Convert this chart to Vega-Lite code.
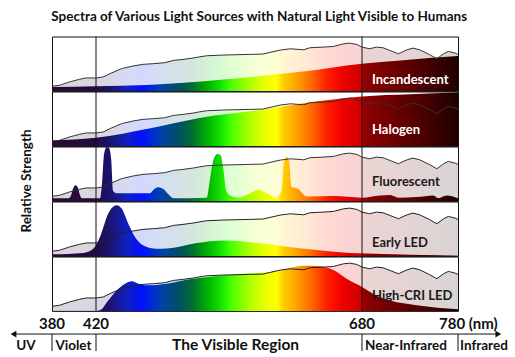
{
  "$schema": "https://vega.github.io/schema/vega-lite/v6.json",
  "background": "white",
  "padding": {"left": 10, "top": 9.5, "right": 5, "bottom": 0},
  "bounds": "flush",
  "title": {"text": "Spectra of Various Light Sources with Natural Light Visible to Humans", "font": "Lato", "fontSize": 13.5, "fontWeight": "bold", "color": "#111", "anchor": "middle", "offset": 12},
  "spacing": 0,
  "config": {"view": {"stroke": "#111", "strokeWidth": 1}, "font": "Lato"},
  "datasets": {
    "daylight": [
      {"nm":380,"v":8.5},{"nm":387,"v":10.4},{"nm":396,"v":16.5},{"nm":405,"v":21.3},{"nm":411,"v":23.8},{"nm":420,"v":23.8},{"nm":427,"v":25.6},{"nm":435,"v":32.9},{"nm":445,"v":40.9},{"nm":456,"v":45.7},{"nm":466,"v":48.8},{"nm":476,"v":50},{"nm":487,"v":51.8},{"nm":496,"v":56.1},{"nm":505,"v":57.9},{"nm":515,"v":60.4},{"nm":520,"v":62.2},{"nm":528,"v":64.6},{"nm":544,"v":65.9},{"nm":557,"v":66.5},{"nm":570,"v":67.1},{"nm":583,"v":67.7},{"nm":590,"v":70.7},{"nm":600,"v":75},{"nm":610,"v":77.4},{"nm":623,"v":75.6},{"nm":629,"v":79.3},{"nm":642,"v":80.5},{"nm":652,"v":81.7},{"nm":662,"v":86.6},{"nm":668,"v":87.8},{"nm":675,"v":85.4},{"nm":680,"v":80.5},{"nm":688,"v":77.4},{"nm":695,"v":80.5},{"nm":702,"v":79.3},{"nm":709,"v":74.4},{"nm":718,"v":68.3},{"nm":727,"v":75.6},{"nm":733,"v":78.7},{"nm":740,"v":75.6},{"nm":750,"v":67.1},{"nm":758,"v":59.1},{"nm":765,"v":68.3},{"nm":770,"v":72.6},{"nm":777,"v":69.5},{"nm":780,"v":67}
    ],
    "spectra": [
      {"source":"Incandescent","nm":380,"v":7},{"source":"Incandescent","nm":420,"v":8.5},{"source":"Incandescent","nm":470,"v":11},{"source":"Incandescent","nm":520,"v":17},{"source":"Incandescent","nm":570,"v":25},{"source":"Incandescent","nm":620,"v":35},{"source":"Incandescent","nm":680,"v":50},{"source":"Incandescent","nm":720,"v":56},{"source":"Incandescent","nm":780,"v":64},
      {"source":"Halogen","nm":380,"v":10},{"source":"Halogen","nm":420,"v":15},{"source":"Halogen","nm":472,"v":32},{"source":"Halogen","nm":520,"v":51},{"source":"Halogen","nm":584,"v":67},{"source":"Halogen","nm":636,"v":82},{"source":"Halogen","nm":680,"v":91},{"source":"Halogen","nm":730,"v":95},{"source":"Halogen","nm":780,"v":98},
      {"source":"Fluorescent","nm":380,"v":5},{"source":"Fluorescent","nm":395,"v":5},{"source":"Fluorescent","nm":397.3,"v":10},{"source":"Fluorescent","nm":399.4,"v":24},{"source":"Fluorescent","nm":401.5,"v":28.7},{"source":"Fluorescent","nm":403.6,"v":24},{"source":"Fluorescent","nm":405.5,"v":10},{"source":"Fluorescent","nm":407.3,"v":5},{"source":"Fluorescent","nm":423.9,"v":5},{"source":"Fluorescent","nm":426.2,"v":40},{"source":"Fluorescent","nm":427.8,"v":85},{"source":"Fluorescent","nm":430.4,"v":99},{"source":"Fluorescent","nm":432.9,"v":97},{"source":"Fluorescent","nm":434.9,"v":75},{"source":"Fluorescent","nm":436.8,"v":18},{"source":"Fluorescent","nm":440.2,"v":14},{"source":"Fluorescent","nm":472.7,"v":14},{"source":"Fluorescent","nm":476,"v":20},{"source":"Fluorescent","nm":480.9,"v":25},{"source":"Fluorescent","nm":485.8,"v":22},{"source":"Fluorescent","nm":490.7,"v":12},{"source":"Fluorescent","nm":495.6,"v":5},{"source":"Fluorescent","nm":528.2,"v":6},{"source":"Fluorescent","nm":531.4,"v":40},{"source":"Fluorescent","nm":534.7,"v":75},{"source":"Fluorescent","nm":538.6,"v":86},{"source":"Fluorescent","nm":541.9,"v":84},{"source":"Fluorescent","nm":544.4,"v":60},{"source":"Fluorescent","nm":547.1,"v":20},{"source":"Fluorescent","nm":551,"v":10},{"source":"Fluorescent","nm":560.8,"v":6},{"source":"Fluorescent","nm":570.5,"v":14},{"source":"Fluorescent","nm":578.7,"v":20.6},{"source":"Fluorescent","nm":586.8,"v":14},{"source":"Fluorescent","nm":596.6,"v":6},{"source":"Fluorescent","nm":601.5,"v":20},{"source":"Fluorescent","nm":603.8,"v":72},{"source":"Fluorescent","nm":606.4,"v":81},{"source":"Fluorescent","nm":608.7,"v":72},{"source":"Fluorescent","nm":610.9,"v":26},{"source":"Fluorescent","nm":617.8,"v":22},{"source":"Fluorescent","nm":626,"v":8},{"source":"Fluorescent","nm":652,"v":9},{"source":"Fluorescent","nm":680,"v":6},{"source":"Fluorescent","nm":698.8,"v":10},{"source":"Fluorescent","nm":709.2,"v":11},{"source":"Fluorescent","nm":717.8,"v":6},{"source":"Fluorescent","nm":736.9,"v":7},{"source":"Fluorescent","nm":754.2,"v":10},{"source":"Fluorescent","nm":759.4,"v":5},{"source":"Fluorescent","nm":768.1,"v":10},{"source":"Fluorescent","nm":780,"v":5},
      {"source":"Early LED","nm":380,"v":3},{"source":"Early LED","nm":408.5,"v":5.5},{"source":"Early LED","nm":417.5,"v":13},{"source":"Early LED","nm":423.9,"v":34.6},{"source":"Early LED","nm":432,"v":77.8},{"source":"Early LED","nm":440.2,"v":93.2},{"source":"Early LED","nm":445.1,"v":87},{"source":"Early LED","nm":451.6,"v":59},{"source":"Early LED","nm":458.1,"v":34.6},{"source":"Early LED","nm":466.3,"v":19},{"source":"Early LED","nm":479.3,"v":13},{"source":"Early LED","nm":498.9,"v":16},{"source":"Early LED","nm":518.4,"v":23.5},{"source":"Early LED","nm":544.4,"v":28.4},{"source":"Early LED","nm":570.5,"v":25.3},{"source":"Early LED","nm":603,"v":17.9},{"source":"Early LED","nm":635.7,"v":11},{"source":"Early LED","nm":668.3,"v":5.5},{"source":"Early LED","nm":702.2,"v":3.7},{"source":"Early LED","nm":757.8,"v":1.2},{"source":"Early LED","nm":780,"v":0.5},
      {"source":"High-CRI LED","nm":380,"v":0},{"source":"High-CRI LED","nm":420,"v":0},{"source":"High-CRI LED","nm":423.9,"v":1},{"source":"High-CRI LED","nm":432,"v":19},{"source":"High-CRI LED","nm":440.2,"v":37.5},{"source":"High-CRI LED","nm":448.4,"v":50},{"source":"High-CRI LED","nm":454.9,"v":54.4},{"source":"High-CRI LED","nm":461.4,"v":50},{"source":"High-CRI LED","nm":469.5,"v":47},{"source":"High-CRI LED","nm":489.1,"v":50},{"source":"High-CRI LED","nm":511.9,"v":58},{"source":"High-CRI LED","nm":538,"v":64},{"source":"High-CRI LED","nm":570.5,"v":69},{"source":"High-CRI LED","nm":596.6,"v":73},{"source":"High-CRI LED","nm":622.6,"v":83},{"source":"High-CRI LED","nm":635.7,"v":82.5},{"source":"High-CRI LED","nm":652,"v":75},{"source":"High-CRI LED","nm":665,"v":59},{"source":"High-CRI LED","nm":680,"v":44},{"source":"High-CRI LED","nm":695.3,"v":28},{"source":"High-CRI LED","nm":709.2,"v":19},{"source":"High-CRI LED","nm":736.9,"v":10.6},{"source":"High-CRI LED","nm":780,"v":3}
    ],
    "names": [{"source":"Incandescent"},{"source":"Halogen"},{"source":"Fluorescent"},{"source":"Early LED"},{"source":"High-CRI LED"}],
    "bounds": [{"nm":420},{"nm":680}],
    "scalemarks": [{"nm":380,"label":"380"},{"nm":420,"label":"420"},{"nm":680,"label":"680"},{"nm":780,"label":"780 (nm)"}],
    "regions": [{"region":"UV","nm":356.4},{"region":"Violet","nm":399.5},{"region":"The Visible Region","nm":556.4},{"region":"Near-Infrared","nm":725.8},{"region":"Infrared","nm":807}],
    "arrow": [{"from":345,"to":822}],
    "heads": [{"nm":345,"dir":"left"},{"nm":822,"dir":"right"}]
  },
  "vconcat": [
    {
      "width": 406, "height": 54.4,
      "layer": [
        {"data":{"name":"daylight"},"mark":{"type":"area","clip":true,"fillOpacity":0.17,"fill":{"gradient":"linear","x1":0,"y1":0,"x2":1,"y2":0,"stops":[{"offset":0,"color":"#2a0c2e"},{"offset":0.108,"color":"#250a45"},{"offset":0.143,"color":"#1a1470"},{"offset":0.185,"color":"#1020c0"},{"offset":0.222,"color":"#0010ff"},{"offset":0.266,"color":"#0040b0"},{"offset":0.315,"color":"#005060"},{"offset":0.347,"color":"#007030"},{"offset":0.382,"color":"#00b000"},{"offset":0.414,"color":"#10e000"},{"offset":0.438,"color":"#40ff00"},{"offset":0.488,"color":"#b0ff00"},{"offset":0.53,"color":"#f0ff00"},{"offset":0.554,"color":"#ffff00"},{"offset":0.569,"color":"#ffd000"},{"offset":0.603,"color":"#ffa000"},{"offset":0.635,"color":"#ff7000"},{"offset":0.677,"color":"#ff2000"},{"offset":0.714,"color":"#f00000"},{"offset":0.759,"color":"#d00000"},{"offset":0.771,"color":"#900000"},{"offset":1,"color":"#200000"}]}},
         "encoding":{"x":{"field":"nm","type":"quantitative","scale":{"domain":[380,420,680,780],"range":[0,44,310,406],"nice":false},"axis":null},"y":{"field":"v","type":"quantitative","scale":{"domain":[0,100],"nice":false},"axis":null}}},
        {"data":{"name":"spectra"},"transform":[{"filter":"datum.source === 'Incandescent'"}],"mark":{"type":"area","clip":true,"interpolate":"monotone","fill":{"gradient":"linear","x1":0,"y1":0,"x2":1,"y2":0,"stops":[{"offset":0,"color":"#2a0c2e"},{"offset":0.108,"color":"#250a45"},{"offset":0.143,"color":"#1a1470"},{"offset":0.185,"color":"#1020c0"},{"offset":0.222,"color":"#0010ff"},{"offset":0.266,"color":"#0040b0"},{"offset":0.315,"color":"#005060"},{"offset":0.347,"color":"#007030"},{"offset":0.382,"color":"#00b000"},{"offset":0.414,"color":"#10e000"},{"offset":0.438,"color":"#40ff00"},{"offset":0.488,"color":"#b0ff00"},{"offset":0.53,"color":"#f0ff00"},{"offset":0.554,"color":"#ffff00"},{"offset":0.569,"color":"#ffd000"},{"offset":0.603,"color":"#ffa000"},{"offset":0.635,"color":"#ff7000"},{"offset":0.677,"color":"#ff2000"},{"offset":0.714,"color":"#f00000"},{"offset":0.759,"color":"#d00000"},{"offset":0.771,"color":"#900000"},{"offset":1,"color":"#200000"}]}},
         "encoding":{"x":{"field":"nm","type":"quantitative","scale":{"domain":[380,420,680,780],"range":[0,44,310,406],"nice":false},"axis":null},"y":{"field":"v","type":"quantitative","scale":{"domain":[0,100],"nice":false},"axis":null}}},
        {"data":{"name":"bounds"},"mark":{"type":"rule","color":"#111","strokeWidth":1},"encoding":{"x":{"field":"nm","type":"quantitative","scale":{"domain":[380,420,680,780],"range":[0,44,310,406],"nice":false},"axis":null}}},
        {"data":{"name":"daylight"},"mark":{"type":"line","clip":true,"color":"#333","strokeWidth":1},
         "encoding":{"x":{"field":"nm","type":"quantitative","scale":{"domain":[380,420,680,780],"range":[0,44,310,406],"nice":false},"axis":null},"y":{"field":"v","type":"quantitative","scale":{"domain":[0,100],"nice":false},"axis":null}}},
        {"data":{"name":"names"},"transform":[{"filter":"datum.source === 'Incandescent'"}],"mark":{"type":"text","align":"left","baseline":"alphabetic","font":"Lato","fontSize":13,"fontWeight":"bold","color":"white"},
         "encoding":{"x":{"datum":690.4,"type":"quantitative","axis":null},"y":{"datum":12.9,"type":"quantitative","axis":null},"text":{"field":"source"}}}
      ]
    },
    {
      "width": 406, "height": 54.4,
      "layer": [
        {"data":{"name":"daylight"},"mark":{"type":"area","clip":true,"fillOpacity":0.17,"fill":{"gradient":"linear","x1":0,"y1":0,"x2":1,"y2":0,"stops":[{"offset":0,"color":"#2a0c2e"},{"offset":0.108,"color":"#250a45"},{"offset":0.143,"color":"#1a1470"},{"offset":0.185,"color":"#1020c0"},{"offset":0.222,"color":"#0010ff"},{"offset":0.266,"color":"#0040b0"},{"offset":0.315,"color":"#005060"},{"offset":0.347,"color":"#007030"},{"offset":0.382,"color":"#00b000"},{"offset":0.414,"color":"#10e000"},{"offset":0.438,"color":"#40ff00"},{"offset":0.488,"color":"#b0ff00"},{"offset":0.53,"color":"#f0ff00"},{"offset":0.554,"color":"#ffff00"},{"offset":0.569,"color":"#ffd000"},{"offset":0.603,"color":"#ffa000"},{"offset":0.635,"color":"#ff7000"},{"offset":0.677,"color":"#ff2000"},{"offset":0.714,"color":"#f00000"},{"offset":0.759,"color":"#d00000"},{"offset":0.771,"color":"#900000"},{"offset":1,"color":"#200000"}]}},
         "encoding":{"x":{"field":"nm","type":"quantitative","scale":{"domain":[380,420,680,780],"range":[0,44,310,406],"nice":false},"axis":null},"y":{"field":"v","type":"quantitative","scale":{"domain":[0,100],"nice":false},"axis":null}}},
        {"data":{"name":"spectra"},"transform":[{"filter":"datum.source === 'Halogen'"}],"mark":{"type":"area","clip":true,"interpolate":"monotone","fill":{"gradient":"linear","x1":0,"y1":0,"x2":1,"y2":0,"stops":[{"offset":0,"color":"#2a0c2e"},{"offset":0.108,"color":"#250a45"},{"offset":0.143,"color":"#1a1470"},{"offset":0.185,"color":"#1020c0"},{"offset":0.222,"color":"#0010ff"},{"offset":0.266,"color":"#0040b0"},{"offset":0.315,"color":"#005060"},{"offset":0.347,"color":"#007030"},{"offset":0.382,"color":"#00b000"},{"offset":0.414,"color":"#10e000"},{"offset":0.438,"color":"#40ff00"},{"offset":0.488,"color":"#b0ff00"},{"offset":0.53,"color":"#f0ff00"},{"offset":0.554,"color":"#ffff00"},{"offset":0.569,"color":"#ffd000"},{"offset":0.603,"color":"#ffa000"},{"offset":0.635,"color":"#ff7000"},{"offset":0.677,"color":"#ff2000"},{"offset":0.714,"color":"#f00000"},{"offset":0.759,"color":"#d00000"},{"offset":0.771,"color":"#900000"},{"offset":1,"color":"#200000"}]}},
         "encoding":{"x":{"field":"nm","type":"quantitative","scale":{"domain":[380,420,680,780],"range":[0,44,310,406],"nice":false},"axis":null},"y":{"field":"v","type":"quantitative","scale":{"domain":[0,100],"nice":false},"axis":null}}},
        {"data":{"name":"bounds"},"mark":{"type":"rule","color":"#111","strokeWidth":1},"encoding":{"x":{"field":"nm","type":"quantitative","scale":{"domain":[380,420,680,780],"range":[0,44,310,406],"nice":false},"axis":null}}},
        {"data":{"name":"daylight"},"mark":{"type":"line","clip":true,"color":"#333","strokeWidth":1},
         "encoding":{"x":{"field":"nm","type":"quantitative","scale":{"domain":[380,420,680,780],"range":[0,44,310,406],"nice":false},"axis":null},"y":{"field":"v","type":"quantitative","scale":{"domain":[0,100],"nice":false},"axis":null}}},
        {"data":{"name":"names"},"transform":[{"filter":"datum.source === 'Halogen'"}],"mark":{"type":"text","align":"left","baseline":"alphabetic","font":"Lato","fontSize":13,"fontWeight":"bold","color":"white"},
         "encoding":{"x":{"datum":690.4,"type":"quantitative","axis":null},"y":{"datum":22.2,"type":"quantitative","axis":null},"text":{"field":"source"}}}
      ]
    },
    {
      "width": 406, "height": 54.4,
      "layer": [
        {"data":{"name":"daylight"},"mark":{"type":"area","clip":true,"fillOpacity":0.17,"fill":{"gradient":"linear","x1":0,"y1":0,"x2":1,"y2":0,"stops":[{"offset":0,"color":"#2a0c2e"},{"offset":0.108,"color":"#250a45"},{"offset":0.143,"color":"#1a1470"},{"offset":0.185,"color":"#1020c0"},{"offset":0.222,"color":"#0010ff"},{"offset":0.266,"color":"#0040b0"},{"offset":0.315,"color":"#005060"},{"offset":0.347,"color":"#007030"},{"offset":0.382,"color":"#00b000"},{"offset":0.414,"color":"#10e000"},{"offset":0.438,"color":"#40ff00"},{"offset":0.488,"color":"#b0ff00"},{"offset":0.53,"color":"#f0ff00"},{"offset":0.554,"color":"#ffff00"},{"offset":0.569,"color":"#ffd000"},{"offset":0.603,"color":"#ffa000"},{"offset":0.635,"color":"#ff7000"},{"offset":0.677,"color":"#ff2000"},{"offset":0.714,"color":"#f00000"},{"offset":0.759,"color":"#d00000"},{"offset":0.771,"color":"#900000"},{"offset":1,"color":"#200000"}]}},
         "encoding":{"x":{"field":"nm","type":"quantitative","scale":{"domain":[380,420,680,780],"range":[0,44,310,406],"nice":false},"axis":null},"y":{"field":"v","type":"quantitative","scale":{"domain":[0,100],"nice":false},"axis":{"title":"Relative Strength","titleFont":"Lato","titleFontSize":13.5,"titleFontWeight":"bold","titleColor":"#111","titlePadding":19,"titleY":34,"labels":false,"ticks":false,"domain":false,"grid":false}}}},
        {"data":{"name":"spectra"},"transform":[{"filter":"datum.source === 'Fluorescent'"}],"mark":{"type":"area","clip":true,"interpolate":"monotone","fill":{"gradient":"linear","x1":0,"y1":0,"x2":1,"y2":0,"stops":[{"offset":0,"color":"#2a0c2e"},{"offset":0.108,"color":"#250a45"},{"offset":0.143,"color":"#1a1470"},{"offset":0.185,"color":"#1020c0"},{"offset":0.222,"color":"#0010ff"},{"offset":0.266,"color":"#0040b0"},{"offset":0.315,"color":"#005060"},{"offset":0.347,"color":"#007030"},{"offset":0.382,"color":"#00b000"},{"offset":0.414,"color":"#10e000"},{"offset":0.438,"color":"#40ff00"},{"offset":0.488,"color":"#b0ff00"},{"offset":0.53,"color":"#f0ff00"},{"offset":0.554,"color":"#ffff00"},{"offset":0.569,"color":"#ffd000"},{"offset":0.603,"color":"#ffa000"},{"offset":0.635,"color":"#ff7000"},{"offset":0.677,"color":"#ff2000"},{"offset":0.714,"color":"#f00000"},{"offset":0.759,"color":"#d00000"},{"offset":0.771,"color":"#900000"},{"offset":1,"color":"#200000"}]}},
         "encoding":{"x":{"field":"nm","type":"quantitative","scale":{"domain":[380,420,680,780],"range":[0,44,310,406],"nice":false},"axis":null},"y":{"field":"v","type":"quantitative","scale":{"domain":[0,100],"nice":false},"axis":{"title":"Relative Strength","titleFont":"Lato","titleFontSize":13.5,"titleFontWeight":"bold","titleColor":"#111","titlePadding":19,"titleY":34,"labels":false,"ticks":false,"domain":false,"grid":false}}}},
        {"data":{"name":"bounds"},"mark":{"type":"rule","color":"#111","strokeWidth":1},"encoding":{"x":{"field":"nm","type":"quantitative","scale":{"domain":[380,420,680,780],"range":[0,44,310,406],"nice":false},"axis":null}}},
        {"data":{"name":"daylight"},"mark":{"type":"line","clip":true,"color":"#333","strokeWidth":1},
         "encoding":{"x":{"field":"nm","type":"quantitative","scale":{"domain":[380,420,680,780],"range":[0,44,310,406],"nice":false},"axis":null},"y":{"field":"v","type":"quantitative","scale":{"domain":[0,100],"nice":false},"axis":{"title":"Relative Strength","titleFont":"Lato","titleFontSize":13.5,"titleFontWeight":"bold","titleColor":"#111","titlePadding":19,"titleY":34,"labels":false,"ticks":false,"domain":false,"grid":false}}}},
        {"data":{"name":"names"},"transform":[{"filter":"datum.source === 'Fluorescent'"}],"mark":{"type":"text","align":"left","baseline":"alphabetic","font":"Lato","fontSize":13,"fontWeight":"bold","color":"#1a1a1a"},
         "encoding":{"x":{"datum":690.4,"type":"quantitative","axis":null},"y":{"datum":27.8,"type":"quantitative","axis":{"title":"Relative Strength","titleFont":"Lato","titleFontSize":13.5,"titleFontWeight":"bold","titleColor":"#111","titlePadding":19,"titleY":34,"labels":false,"ticks":false,"domain":false,"grid":false}},"text":{"field":"source"}}}
      ]
    },
    {
      "width": 406, "height": 54.4,
      "layer": [
        {"data":{"name":"daylight"},"mark":{"type":"area","clip":true,"fillOpacity":0.17,"fill":{"gradient":"linear","x1":0,"y1":0,"x2":1,"y2":0,"stops":[{"offset":0,"color":"#2a0c2e"},{"offset":0.108,"color":"#250a45"},{"offset":0.143,"color":"#1a1470"},{"offset":0.185,"color":"#1020c0"},{"offset":0.222,"color":"#0010ff"},{"offset":0.266,"color":"#0040b0"},{"offset":0.315,"color":"#005060"},{"offset":0.347,"color":"#007030"},{"offset":0.382,"color":"#00b000"},{"offset":0.414,"color":"#10e000"},{"offset":0.438,"color":"#40ff00"},{"offset":0.488,"color":"#b0ff00"},{"offset":0.53,"color":"#f0ff00"},{"offset":0.554,"color":"#ffff00"},{"offset":0.569,"color":"#ffd000"},{"offset":0.603,"color":"#ffa000"},{"offset":0.635,"color":"#ff7000"},{"offset":0.677,"color":"#ff2000"},{"offset":0.714,"color":"#f00000"},{"offset":0.759,"color":"#d00000"},{"offset":0.771,"color":"#900000"},{"offset":1,"color":"#200000"}]}},
         "encoding":{"x":{"field":"nm","type":"quantitative","scale":{"domain":[380,420,680,780],"range":[0,44,310,406],"nice":false},"axis":null},"y":{"field":"v","type":"quantitative","scale":{"domain":[0,100],"nice":false},"axis":null}}},
        {"data":{"name":"spectra"},"transform":[{"filter":"datum.source === 'Early LED'"}],"mark":{"type":"area","clip":true,"interpolate":"monotone","fill":{"gradient":"linear","x1":0,"y1":0,"x2":1,"y2":0,"stops":[{"offset":0,"color":"#2a0c2e"},{"offset":0.108,"color":"#250a45"},{"offset":0.143,"color":"#1a1470"},{"offset":0.185,"color":"#1020c0"},{"offset":0.222,"color":"#0010ff"},{"offset":0.266,"color":"#0040b0"},{"offset":0.315,"color":"#005060"},{"offset":0.347,"color":"#007030"},{"offset":0.382,"color":"#00b000"},{"offset":0.414,"color":"#10e000"},{"offset":0.438,"color":"#40ff00"},{"offset":0.488,"color":"#b0ff00"},{"offset":0.53,"color":"#f0ff00"},{"offset":0.554,"color":"#ffff00"},{"offset":0.569,"color":"#ffd000"},{"offset":0.603,"color":"#ffa000"},{"offset":0.635,"color":"#ff7000"},{"offset":0.677,"color":"#ff2000"},{"offset":0.714,"color":"#f00000"},{"offset":0.759,"color":"#d00000"},{"offset":0.771,"color":"#900000"},{"offset":1,"color":"#200000"}]}},
         "encoding":{"x":{"field":"nm","type":"quantitative","scale":{"domain":[380,420,680,780],"range":[0,44,310,406],"nice":false},"axis":null},"y":{"field":"v","type":"quantitative","scale":{"domain":[0,100],"nice":false},"axis":null}}},
        {"data":{"name":"bounds"},"mark":{"type":"rule","color":"#111","strokeWidth":1},"encoding":{"x":{"field":"nm","type":"quantitative","scale":{"domain":[380,420,680,780],"range":[0,44,310,406],"nice":false},"axis":null}}},
        {"data":{"name":"daylight"},"mark":{"type":"line","clip":true,"color":"#222","strokeWidth":1},
         "encoding":{"x":{"field":"nm","type":"quantitative","scale":{"domain":[380,420,680,780],"range":[0,44,310,406],"nice":false},"axis":null},"y":{"field":"v","type":"quantitative","scale":{"domain":[0,100],"nice":false},"axis":null}}},
        {"data":{"name":"names"},"transform":[{"filter":"datum.source === 'Early LED'"}],"mark":{"type":"text","align":"left","baseline":"alphabetic","font":"Lato","fontSize":13,"fontWeight":"bold","color":"#1a1a1a"},
         "encoding":{"x":{"datum":690.4,"type":"quantitative","axis":null},"y":{"datum":16.4,"type":"quantitative","axis":null},"text":{"field":"source"}}}
      ]
    },
    {
      "width": 406, "height": 54.4,
      "layer": [
        {"data":{"name":"daylight"},"mark":{"type":"area","clip":true,"fillOpacity":0.17,"fill":{"gradient":"linear","x1":0,"y1":0,"x2":1,"y2":0,"stops":[{"offset":0,"color":"#2a0c2e"},{"offset":0.108,"color":"#250a45"},{"offset":0.143,"color":"#1a1470"},{"offset":0.185,"color":"#1020c0"},{"offset":0.222,"color":"#0010ff"},{"offset":0.266,"color":"#0040b0"},{"offset":0.315,"color":"#005060"},{"offset":0.347,"color":"#007030"},{"offset":0.382,"color":"#00b000"},{"offset":0.414,"color":"#10e000"},{"offset":0.438,"color":"#40ff00"},{"offset":0.488,"color":"#b0ff00"},{"offset":0.53,"color":"#f0ff00"},{"offset":0.554,"color":"#ffff00"},{"offset":0.569,"color":"#ffd000"},{"offset":0.603,"color":"#ffa000"},{"offset":0.635,"color":"#ff7000"},{"offset":0.677,"color":"#ff2000"},{"offset":0.714,"color":"#f00000"},{"offset":0.759,"color":"#d00000"},{"offset":0.771,"color":"#900000"},{"offset":1,"color":"#200000"}]}},
         "encoding":{"x":{"field":"nm","type":"quantitative","scale":{"domain":[380,420,680,780],"range":[0,44,310,406],"nice":false},"axis":null},"y":{"field":"v","type":"quantitative","scale":{"domain":[0,100],"nice":false},"axis":null}}},
        {"data":{"name":"spectra"},"transform":[{"filter":"datum.source === 'High-CRI LED'"}],"mark":{"type":"area","clip":true,"interpolate":"monotone","fill":{"gradient":"linear","x1":0,"y1":0,"x2":1,"y2":0,"stops":[{"offset":0,"color":"#2a0c2e"},{"offset":0.108,"color":"#250a45"},{"offset":0.143,"color":"#1a1470"},{"offset":0.185,"color":"#1020c0"},{"offset":0.222,"color":"#0010ff"},{"offset":0.266,"color":"#0040b0"},{"offset":0.315,"color":"#005060"},{"offset":0.347,"color":"#007030"},{"offset":0.382,"color":"#00b000"},{"offset":0.414,"color":"#10e000"},{"offset":0.438,"color":"#40ff00"},{"offset":0.488,"color":"#b0ff00"},{"offset":0.53,"color":"#f0ff00"},{"offset":0.554,"color":"#ffff00"},{"offset":0.569,"color":"#ffd000"},{"offset":0.603,"color":"#ffa000"},{"offset":0.635,"color":"#ff7000"},{"offset":0.677,"color":"#ff2000"},{"offset":0.714,"color":"#f00000"},{"offset":0.759,"color":"#d00000"},{"offset":0.771,"color":"#900000"},{"offset":1,"color":"#200000"}]}},
         "encoding":{"x":{"field":"nm","type":"quantitative","scale":{"domain":[380,420,680,780],"range":[0,44,310,406],"nice":false},"axis":null},"y":{"field":"v","type":"quantitative","scale":{"domain":[0,100],"nice":false},"axis":null}}},
        {"data":{"name":"bounds"},"mark":{"type":"rule","color":"#111","strokeWidth":1},"encoding":{"x":{"field":"nm","type":"quantitative","scale":{"domain":[380,420,680,780],"range":[0,44,310,406],"nice":false},"axis":null}}},
        {"data":{"name":"daylight"},"mark":{"type":"line","clip":true,"color":"#222","strokeWidth":1},
         "encoding":{"x":{"field":"nm","type":"quantitative","scale":{"domain":[380,420,680,780],"range":[0,44,310,406],"nice":false},"axis":null},"y":{"field":"v","type":"quantitative","scale":{"domain":[0,100],"nice":false},"axis":null}}},
        {"data":{"name":"names"},"transform":[{"filter":"datum.source === 'High-CRI LED'"}],"mark":{"type":"text","align":"left","baseline":"alphabetic","font":"Lato","fontSize":13,"fontWeight":"bold","color":"#1a1a1a"},
         "encoding":{"x":{"datum":690.4,"type":"quantitative","axis":null},"y":{"datum":20.8,"type":"quantitative","axis":null},"text":{"field":"source"}}}
      ]
    },
    {
      "width": 406, "height": 46,
      "view": {"stroke": null},
      "layer": [
        {"data":{"name":"arrow"},"mark":{"type":"rule","color":"#111","strokeWidth":1},
         "encoding":{"x":{"field":"from","type":"quantitative","scale":{"domain":[380,420,680,780],"range":[0,44,310,406],"nice":false},"axis":null},"x2":{"field":"to"},"y":{"datum":51,"type":"quantitative","scale":{"domain":[0,100],"nice":false},"axis":null}}},
        {"data":{"name":"heads"},"mark":{"type":"point","filled":true,"color":"#111","size":45,"opacity":1},
         "encoding":{"x":{"field":"nm","type":"quantitative","scale":{"domain":[380,420,680,780],"range":[0,44,310,406],"nice":false},"axis":null},"y":{"datum":51,"type":"quantitative","axis":null},"shape":{"field":"dir","type":"nominal","scale":{"domain":["left","right"],"range":["triangle-left","triangle-right"]},"legend":null}}},
        {"data":{"name":"scalemarks"},"mark":{"type":"rule","color":"#111","strokeWidth":1},
         "encoding":{"x":{"field":"nm","type":"quantitative","scale":{"domain":[380,420,680,780],"range":[0,44,310,406],"nice":false},"axis":null},"y":{"datum":51,"type":"quantitative","axis":null},"y2":{"datum":14}}},
        {"data":{"name":"scalemarks"},"transform":[{"filter":"datum.nm < 780"}],"mark":{"type":"text","align":"center","baseline":"alphabetic","font":"Lato","fontSize":15,"fontWeight":"bold","color":"#111"},
         "encoding":{"x":{"field":"nm","type":"quantitative","scale":{"domain":[380,420,680,780],"range":[0,44,310,406],"nice":false},"axis":null},"y":{"datum":61.3,"type":"quantitative","axis":null},"text":{"field":"label"}}},
        {"data":{"name":"scalemarks"},"transform":[{"filter":"datum.nm === 780"}],"mark":{"type":"text","align":"left","baseline":"alphabetic","font":"Lato","fontSize":15,"fontWeight":"bold","color":"#111","dx":-19},
         "encoding":{"x":{"field":"nm","type":"quantitative","scale":{"domain":[380,420,680,780],"range":[0,44,310,406],"nice":false},"axis":null},"y":{"datum":61.3,"type":"quantitative","axis":null},"text":{"field":"label"}}},
        {"data":{"name":"regions"},"transform":[{"filter":"datum.region !== 'The Visible Region'"}],"mark":{"type":"text","align":"center","baseline":"alphabetic","font":"Lato","fontSize":13.5,"fontWeight":"bold","color":"#111"},
         "encoding":{"x":{"field":"nm","type":"quantitative","scale":{"domain":[380,420,680,780],"range":[0,44,310,406],"nice":false},"axis":null},"y":{"datum":15.7,"type":"quantitative","axis":null},"text":{"field":"region"}}},
        {"data":{"name":"regions"},"transform":[{"filter":"datum.region === 'The Visible Region'"}],"mark":{"type":"text","align":"center","baseline":"alphabetic","font":"Lato","fontSize":15.5,"fontWeight":"bold","color":"#111"},
         "encoding":{"x":{"field":"nm","type":"quantitative","scale":{"domain":[380,420,680,780],"range":[0,44,310,406],"nice":false},"axis":null},"y":{"datum":15.7,"type":"quantitative","axis":null},"text":{"field":"region"}}}
      ]
    }
  ]
}
